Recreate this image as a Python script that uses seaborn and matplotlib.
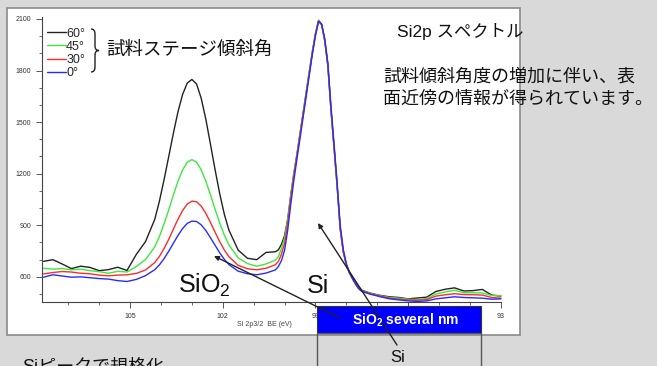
import numpy as np
import pandas as pd
import matplotlib.pyplot as plt
import seaborn as sns
from matplotlib.patches import Rectangle, FancyArrowPatch, PathPatch
from matplotlib.path import Path
from matplotlib.ticker import MultipleLocator

# binding energy (eV) and counts
eV = [107.8, 107.5, 107.2, 106.9, 106.6, 106.3, 106.0, 105.7, 105.4, 105.1,
      104.8, 104.5, 104.2, 104.05, 103.9, 103.75, 103.6, 103.45, 103.3, 103.15,
      103.0, 102.85, 102.7, 102.55, 102.4, 102.25, 102.1, 101.95, 101.8, 101.5,
      101.2, 100.9, 100.6, 100.3, 100.2, 100.1, 100.0, 99.9, 99.8, 99.7,
      99.6, 99.5, 99.4, 99.3, 99.2, 99.1, 99.0, 98.9, 98.8, 98.7,
      98.6, 98.5, 98.4, 98.3, 98.2, 98.1, 98.0, 97.9, 97.8, 97.7,
      97.6, 97.5, 97.2, 96.9, 96.6, 96.3, 96.0, 95.7, 95.4, 95.1,
      94.8, 94.5, 94.2, 93.9, 93.6, 93.3, 93.0]

cnt_60 = [690, 700, 675, 648, 662, 655, 636, 642, 656, 637,
          730, 805, 935, 1041, 1165, 1299, 1434, 1560, 1661, 1727,
          1748, 1722, 1640, 1518, 1373, 1224, 1084, 964, 871, 755,
          708, 700, 742, 746, 757, 790, 840, 935, 1075, 1200,
          1312, 1432, 1552, 1672, 1792, 1910, 2015, 2092, 2068, 1975,
          1830, 1575, 1355, 1130, 880, 745, 670, 625, 595, 565,
          540, 522, 504, 492, 484, 480, 472, 477, 482, 515,
          528, 536, 518, 520, 527, 494, 488]

cnt_45 = [650, 645, 648, 641, 645, 636, 630, 621, 632, 628,
          660, 700, 775, 835, 908, 989, 1075, 1156, 1222, 1267,
          1282, 1267, 1223, 1157, 1078, 993, 914, 843, 785, 710,
          677, 662, 675, 697, 718, 765, 828, 930, 1078, 1205,
          1315, 1435, 1555, 1675, 1795, 1912, 2015, 2090, 2065, 1972,
          1828, 1572, 1352, 1128, 878, 745, 670, 626, 593, 563,
          538, 520, 502, 490, 480, 476, 470, 468, 474, 500,
          512, 522, 508, 508, 506, 492, 490]

cnt_30 = [617, 625, 631, 628, 621, 618, 610, 606, 610, 612,
          620, 640, 683, 719, 765, 818, 877, 935, 986, 1023,
          1040, 1037, 1012, 970, 917, 860, 805, 756, 717, 667,
          647, 641, 650, 670, 690, 732, 795, 908, 1055, 1190,
          1305, 1425, 1545, 1665, 1785, 1905, 2010, 2088, 2066, 1975,
          1832, 1578, 1358, 1132, 882, 748, 668, 622, 590, 560,
          535, 518, 500, 488, 476, 470, 466, 464, 468, 488,
          496, 502, 497, 496, 494, 480, 476]

cnt_0 = [598, 612, 605, 598, 600, 595, 590, 587, 578, 573,
         585, 607, 642, 670, 706, 749, 795, 841, 881, 911,
         924, 922, 903, 870, 828, 784, 740, 702, 671, 633,
         618, 612, 622, 640, 660, 695, 755, 870, 1022, 1160,
         1285, 1405, 1528, 1650, 1772, 1895, 2002, 2085, 2070, 1985,
         1845, 1595, 1375, 1150, 900, 760, 675, 625, 588, 556,
         530, 515, 498, 484, 472, 466, 460, 457, 460, 472,
         478, 484, 480, 478, 476, 470, 472]

angles = ['60°', '45°', '30°', '0°']
colors = ['#222222', '#3de83d', '#ff2a2a', '#2a2aff']
xticks = [105, 102, 99, 96, 93]
xtick_labels = ['105', '102', '99', '', '93']   # 96 is hidden under the blue box

sns.set_style('ticks')
plt.rcParams['font.family'] = ['Liberation Sans', 'Noto Sans CJK JP']
plt.rcParams['mathtext.fontset'] = 'custom'
plt.rcParams['mathtext.rm'] = 'Liberation Sans'
plt.rcParams['mathtext.bf'] = 'Liberation Sans:bold'

W, H = 657, 366


def fp(x, y):
    # pixel position (from top-left) -> figure fraction
    return (x / W, 1 - y / H)


fig = plt.figure(figsize=(6.57, 3.66), dpi=100, facecolor='#d9d9d9')

# white slide panel behind the graph
fig.add_artist(Rectangle(fp(7, 335), 513 / W, 327 / H, transform=fig.transFigure,
                         facecolor='white', edgecolor='#8a8a8a', lw=1.2, zorder=-5))

ax = fig.add_axes([41.7 / W, 1 - 302.3 / H, 459.8 / W, 285.6 / H])
ax.patch.set_alpha(0)

frames = []
for a, c in zip(angles, [cnt_60, cnt_45, cnt_30, cnt_0]):
    frames.append(pd.DataFrame({'eV': eV, 'counts': c, 'angle': a}))
data = pd.concat(frames, ignore_index=True)

sns.lineplot(data=data, x='eV', y='counts', hue='angle', hue_order=angles,
             palette=colors, linewidth=1, errorbar=None, ax=ax)

ax.set_xlim(107.86, 92.98)
ax.set_ylim(452, 2113)
ax.set_xticks(xticks)
ax.set_xticklabels(xtick_labels)
ax.xaxis.set_minor_locator(MultipleLocator(1))
ax.yaxis.set_major_locator(MultipleLocator(300))
ax.yaxis.set_minor_locator(MultipleLocator(100))
ax.set_xlabel('')
ax.set_ylabel('')
sns.despine(ax=ax)
for s in ['left', 'bottom']:
    ax.spines[s].set_color('#444444')
    ax.spines[s].set_linewidth(0.8)
ax.tick_params(which='major', length=4, width=0.7, color='#555555',
               labelsize=5, labelcolor='#333333', pad=3.5)
ax.tick_params(which='minor', length=2, width=0.6, color='#555555')

handles, labels = ax.get_legend_handles_labels()
leg = ax.legend(handles, labels, loc='upper left', bbox_to_anchor=(0.011, 0.962),
                frameon=False, fontsize=9, handlelength=1.5, handletextpad=0.05,
                labelspacing=0.1, borderpad=0, borderaxespad=0)
for ln in leg.get_lines():
    ln.set_linewidth(1)

# brace next to the legend
brace = Path([fp(91, 29), fp(95, 29), fp(95, 34), fp(95, 46),
              fp(95, 50.5), fp(99, 50.5), fp(95, 50.5), fp(95, 55),
              fp(95, 67), fp(95, 72), fp(91, 72)],
             [Path.MOVETO, Path.CURVE3, Path.CURVE3, Path.LINETO,
              Path.CURVE3, Path.CURVE3, Path.CURVE3, Path.CURVE3,
              Path.LINETO, Path.CURVE3, Path.CURVE3])
fig.add_artist(PathPatch(brace, transform=fig.transFigure, fill=False,
                         edgecolor='#222222', lw=1, zorder=6))

fig.text(*fp(106, 50), '試料ステージ傾斜角', fontsize=13.3, va='center', ha='left',
         color='#111111', zorder=12)
fig.text(*fp(397, 32), 'Si2p スペクトル', fontsize=12.5, va='center', ha='left',
         color='#111111', zorder=12)
fig.text(*fp(383, 77), '試料傾斜角度の増加に伴い、表', fontsize=13, va='center',
         ha='left', color='#111111', zorder=12)
fig.text(*fp(383, 99), '面近傍の情報が得られています。', fontsize=13, va='center',
         ha='left', color='#111111', zorder=12)

fig.text(*fp(178, 293), r'SiO$_\mathregular{2}$', fontsize=18, va='baseline',
         ha='left', color='#111111', zorder=12)
fig.text(*fp(307, 293), 'Si', fontsize=18, va='baseline', ha='left',
         color='#111111', zorder=12)
fig.text(*fp(237, 324), 'Si 2p3/2  BE (eV)', fontsize=5, va='center', ha='left',
         color='#444444', zorder=12)

# layer sketch boxes
fig.add_artist(Rectangle(fp(317, 332.7), 164 / W, 27 / H, transform=fig.transFigure,
                         facecolor='#0000ff', edgecolor='#333333', lw=0.8, zorder=8))
fig.add_artist(Rectangle(fp(317, 385), 164 / W, 52.3 / H, transform=fig.transFigure,
                         facecolor='none', edgecolor='#555555', lw=1, zorder=8))
fig.text(*fp(406, 320), r'SiO$_\mathbf{2}$ several nm', fontsize=10,
         fontweight='bold', color='white', va='center', ha='center', zorder=12)
fig.text(*fp(398, 361.5), 'Si', fontsize=12, va='baseline', ha='center',
         color='#111111', zorder=12)

fig.add_artist(FancyArrowPatch(fp(397, 345), fp(318, 223), transform=fig.transFigure,
                               arrowstyle='-|>', mutation_scale=7, lw=1,
                               color='#222222', shrinkA=0, shrinkB=0, zorder=10))
fig.add_artist(FancyArrowPatch(fp(340, 318), fp(214, 256), transform=fig.transFigure,
                               arrowstyle='-|>', mutation_scale=7, lw=1,
                               color='#222222', shrinkA=0, shrinkB=0, zorder=10))

fig.text(*fp(22, 372), 'Siピークで規格化', fontsize=13, va='baseline', ha='left',
         color='#111111', zorder=12)

fig.savefig('out.png', dpi=100, facecolor=fig.get_facecolor())
